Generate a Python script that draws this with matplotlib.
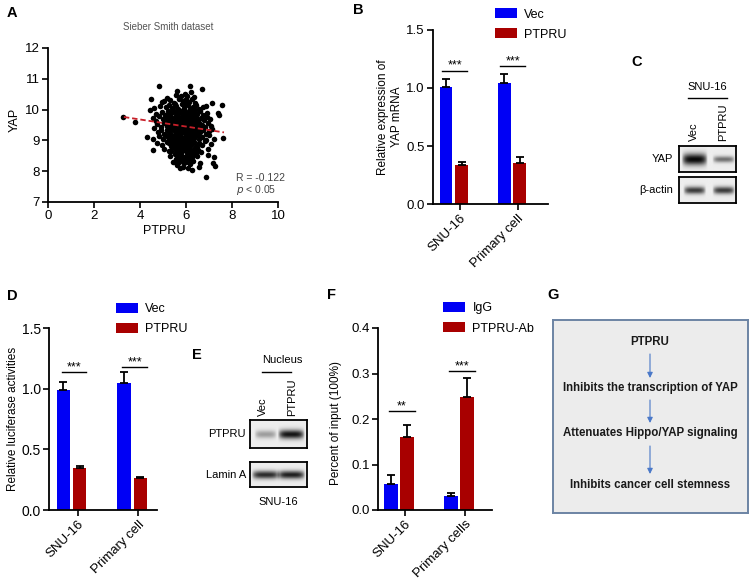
import numpy as np
import matplotlib
matplotlib.use('Agg')
import matplotlib.pyplot as plt

plt.rcParams['font.family'] = ['Liberation Sans', 'DejaVu Sans']

W, H = 753, 584

# ---------------- Panel A: scatter (PTPRU, YAP) ----------------
scatter_points = [
    (3.27, 9.77), (3.78, 9.61),
    (4.84, 10.78), (6.17, 10.77), (5.62, 10.62), (6.68, 10.66),
    (5.55, 10.48), (5.95, 10.52), (6.05, 10.45), (6.22, 10.58), (6.35, 10.41), (5.78, 10.43),
    (4.48, 10.33), (4.94, 10.25), (5.05, 10.28), (5.32, 10.31), (5.48, 10.22), (5.71, 10.35),
    (5.88, 10.27), (6.02, 10.33), (6.13, 10.24), (6.28, 10.36), (6.41, 10.21), (7.12, 10.22),
    (7.55, 10.15), (5.18, 10.37),
    (4.62, 10.05), (4.86, 10.12), (5.12, 10.08), (5.25, 10.15), (5.41, 10.04), (5.58, 10.11),
    (5.66, 10.02), (5.82, 10.17), (5.93, 10.06), (6.08, 10.14), (6.19, 10.01), (6.31, 10.09),
    (6.45, 10.16), (6.58, 10.03), (6.72, 10.07), (6.85, 10.12), (5.99, 10.19), (5.52, 10.18),
    (4.43, 9.99), (4.71, 9.86), (4.95, 9.92), (5.08, 9.83), (5.21, 9.97), (5.35, 9.88),
    (5.47, 9.95), (5.60, 9.84), (5.72, 9.93), (5.85, 9.81), (5.96, 9.97), (6.04, 9.89),
    (6.16, 9.94), (6.27, 9.82), (6.38, 9.98), (6.49, 9.87), (6.61, 9.95), (6.76, 9.84),
    (6.90, 9.90), (7.38, 9.88), (7.44, 9.82), (5.29, 9.80), (6.10, 9.85),
    (4.55, 9.72), (4.68, 9.64), (4.82, 9.78), (4.98, 9.69), (5.14, 9.75), (5.26, 9.62),
    (5.38, 9.71), (5.51, 9.77), (5.63, 9.66), (5.74, 9.73), (5.87, 9.61), (5.98, 9.76),
    (6.07, 9.68), (6.18, 9.74), (6.29, 9.63), (6.39, 9.79), (6.52, 9.67), (6.64, 9.72),
    (6.79, 9.65), (6.93, 9.76), (7.05, 9.69), (5.44, 9.63), (5.92, 9.70), (6.23, 9.66), (5.70, 9.62),
    (4.75, 9.52), (4.90, 9.45), (5.03, 9.57), (5.16, 9.48), (5.28, 9.55), (5.40, 9.43),
    (5.53, 9.58), (5.65, 9.46), (5.77, 9.54), (5.89, 9.42), (6.00, 9.56), (6.12, 9.47),
    (6.24, 9.53), (6.36, 9.41), (6.47, 9.59), (6.59, 9.45), (6.71, 9.51), (6.84, 9.44),
    (6.97, 9.56), (7.10, 9.48), (5.34, 9.47), (5.82, 9.50), (6.06, 9.44), (6.30, 9.57), (5.58, 9.41),
    (4.62, 9.39), (4.79, 9.28), (4.93, 9.35), (5.06, 9.22), (5.19, 9.33), (5.31, 9.25),
    (5.43, 9.38), (5.56, 9.21), (5.68, 9.31), (5.80, 9.24), (5.91, 9.36), (6.03, 9.27),
    (6.14, 9.34), (6.26, 9.22), (6.37, 9.30), (6.50, 9.37), (6.62, 9.26), (6.75, 9.33),
    (6.88, 9.21), (7.02, 9.29), (7.15, 9.36), (5.74, 9.38), (5.97, 9.23), (6.20, 9.29), (5.50, 9.30),
    (4.30, 9.12), (4.58, 9.03), (4.84, 9.15), (5.00, 9.06), (5.13, 9.18), (5.27, 9.02),
    (5.39, 9.11), (5.52, 9.17), (5.64, 9.04), (5.76, 9.13), (5.87, 9.08), (5.99, 9.19),
    (6.11, 9.01), (6.22, 9.14), (6.34, 9.07), (6.46, 9.16), (6.57, 9.05), (6.70, 9.12),
    (6.86, 9.02), (7.00, 9.17), (7.60, 9.09), (7.22, 9.05), (5.94, 9.10), (5.60, 9.09), (6.28, 9.03),
    (4.73, 8.93), (4.97, 8.86), (5.17, 8.95), (5.33, 8.82), (5.45, 8.90), (5.58, 8.97),
    (5.70, 8.84), (5.83, 8.92), (5.95, 8.81), (6.06, 8.98), (6.17, 8.87), (6.29, 8.94),
    (6.42, 8.83), (6.55, 8.91), (6.68, 8.86), (6.83, 8.97), (7.08, 8.89), (5.89, 8.88),
    (6.01, 8.90), (5.52, 8.85),
    (4.55, 8.69), (5.06, 8.72), (5.24, 8.64), (5.40, 8.77), (5.55, 8.68), (5.67, 8.74),
    (5.79, 8.62), (5.90, 8.78), (6.02, 8.66), (6.13, 8.73), (6.25, 8.61), (6.37, 8.76),
    (6.50, 8.69), (6.66, 8.63), (6.97, 8.72), (5.85, 8.70), (6.08, 8.60),
    (5.30, 8.48), (5.50, 8.55), (5.66, 8.44), (5.80, 8.58), (5.93, 8.47), (6.05, 8.53),
    (6.19, 8.42), (6.33, 8.56), (6.46, 8.49), (6.97, 8.52), (7.22, 8.45), (5.72, 8.50), (6.12, 8.57),
    (5.45, 8.31), (5.62, 8.22), (5.77, 8.36), (5.92, 8.27), (6.04, 8.38), (6.18, 8.24),
    (6.32, 8.33), (6.60, 8.28), (7.19, 8.26), (5.60, 8.20),
    (5.72, 8.12), (6.10, 8.09), (6.26, 8.04), (5.86, 8.15), (6.58, 8.14), (7.25, 8.18),
    (6.87, 7.82),
    (5.25, 9.90), (5.38, 9.93), (5.55, 9.90), (5.66, 9.87), (5.79, 9.96), (5.90, 9.89),
    (6.01, 9.80), (6.13, 9.76), (6.33, 9.88), (6.45, 9.76),
    (5.20, 9.65), (5.33, 9.58), (5.46, 9.69), (5.59, 9.52), (5.69, 9.57), (5.81, 9.68),
    (5.94, 9.55), (6.02, 9.62), (6.15, 9.58), (6.27, 9.71), (6.42, 9.62), (6.56, 9.55),
    (5.22, 9.40), (5.36, 9.36), (5.48, 9.47), (5.62, 9.35), (5.72, 9.45), (5.85, 9.31),
    (5.96, 9.46), (6.09, 9.38), (6.19, 9.42), (6.32, 9.35), (6.44, 9.47), (6.56, 9.33),
    (5.23, 9.12), (5.35, 9.19), (5.47, 9.05), (5.57, 9.25), (5.70, 9.18), (5.82, 9.02),
    (5.92, 9.29), (6.05, 9.12), (6.17, 9.21), (6.31, 9.17), (6.41, 9.24), (6.53, 9.20),
    (5.28, 8.90), (5.40, 8.96), (5.63, 8.90), (5.76, 8.98), (5.86, 8.80), (5.99, 8.97),
    (6.11, 8.79), (6.23, 8.86), (6.36, 8.95), (6.48, 8.78),
    (5.35, 8.66), (5.47, 8.80), (5.61, 8.60), (5.73, 8.68), (5.96, 8.72), (6.18, 8.67),
    (6.31, 8.68), (6.42, 8.60),
    (5.58, 8.40), (5.85, 8.42), (5.98, 8.36), (6.25, 8.45), (5.70, 8.30), (6.10, 8.30),
]
fit_x = [3.3, 7.65]
fit_y = [9.76, 9.26]
a_xticks = [0, 2, 4, 6, 8, 10]
a_yticks = [7, 8, 9, 10, 11, 12]

# ---------------- Panel B ----------------
groups_b = ['SNU-16', 'Primary cell']
b_vec = [1.01, 1.04]
b_vec_err = [0.065, 0.085]
b_ptpru = [0.335, 0.356]
b_ptpru_err = [0.025, 0.05]
b_sig = [1.15, 1.19]
b_sig_labels = ['***', '***']

# ---------------- Panel D ----------------
groups_d = ['SNU-16', 'Primary cell']
d_vec = [0.99, 1.05]
d_vec_err = [0.065, 0.09]
d_ptpru = [0.35, 0.26]
d_ptpru_err = [0.015, 0.01]
d_sig = [1.14, 1.18]
d_sig_labels = ['***', '***']

# ---------------- Panel F ----------------
groups_f = ['SNU-16', 'Primary cells']
f_igg = [0.057, 0.030]
f_igg_err = [0.021, 0.007]
f_ab = [0.161, 0.248]
f_ab_err = [0.026, 0.042]
f_sig = [0.218, 0.305]
f_sig_labels = ['**', '***']

# ---------------- Blots ----------------
blot_lanes = ['Vec', 'PTPRU']
blot_c_rows = ['YAP', 'β-actin']
blot_c_intensity = [[1.0, 0.55], [0.78, 0.78]]
blot_e_rows = ['PTPRU', 'Lamin A']
blot_e_intensity = [[0.35, 0.95], [0.85, 0.9]]

# ---------------- Panel G ----------------
flow_steps = ['PTPRU', 'Inhibits the transcription of YAP',
              'Attenuates Hippo/YAP signaling', 'Inhibits cancer cell stemness']

BLUE = '#0000f5'
RED = '#a80000'

fig = plt.figure(figsize=(W / 100, H / 100), dpi=100)
fig.patch.set_facecolor('white')


def add_ax(l, t, r, b):
    return fig.add_axes([l / W, 1 - b / H, (r - l) / W, (b - t) / H])


def ftext(x, y, s, **kw):
    return fig.text(x / W, 1 - y / H, s, **kw)


def style_axes(ax, ysize=9.5, xsize=9.5):
    for s in ['top', 'right']:
        ax.spines[s].set_visible(False)
    for s in ['left', 'bottom']:
        ax.spines[s].set_linewidth(1.3)
    ax.tick_params(direction='out', length=4, width=1.2, pad=2)
    ax.tick_params(axis='y', labelsize=ysize)
    ax.tick_params(axis='x', labelsize=xsize)
    ax.set_facecolor('none')


# ---- Panel A ----
axA = add_ax(48, 48, 278, 202)
pts = np.array(scatter_points)
axA.scatter(pts[:, 0], pts[:, 1], s=16, color='black', linewidths=0, zorder=2)
axA.plot(fit_x, fit_y, color='#c8202a', lw=1.3, ls=(0, (3, 1.6)), zorder=3)
axA.set_xlim(0, 10)
axA.set_ylim(7, 12)
axA.set_xticks(a_xticks)
axA.set_yticks(a_yticks)
style_axes(axA, 9.5, 9.5)
ftext(168, 27, 'Sieber Smith dataset', fontsize=7, color='#555555', ha='center', va='center')
ftext(15, 120, 'YAP', fontsize=9, rotation=90, ha='center', va='center')
ftext(164, 231, 'PTPRU', fontsize=9, ha='center', va='center')
ftext(236, 178, 'R = -0.122', fontsize=7.5, color='#444444', ha='left', va='center')
ftext(236, 190, r'$p$ < 0.05', fontsize=7.5, color='#444444', ha='left', va='center')


def bar_panel(box, groups, v1, e1, v2, e2, names, xlim, ylim, yticks, ytl,
              sig, sig_lab, span, leg_xy, off=0.135, width=0.22, tick_off=0.1, ysize=9.5):
    ax = add_ax(*box)
    pos = np.arange(len(groups))
    ax.bar(pos - off, v1, width, color=BLUE, label=names[0], zorder=2)
    ax.bar(pos + off, v2, width, color=RED, label=names[1], zorder=2)
    ax.errorbar(pos - off, v1, yerr=[np.zeros(len(v1)), e1], fmt='none', ecolor='black',
                elinewidth=1.3, capsize=3, capthick=1.3, zorder=3)
    ax.errorbar(pos + off, v2, yerr=[np.zeros(len(v2)), e2], fmt='none', ecolor='black',
                elinewidth=1.3, capsize=3, capthick=1.3, zorder=3)
    for p, y, lab in zip(pos, sig, sig_lab):
        ax.plot([p + span[0], p + span[1]], [y, y], color='black', lw=1.0, zorder=3)
        ax.annotate(lab, xy=(p + (span[0] + span[1]) / 2, y), xytext=(0, 1.2),
                    textcoords='offset points', ha='center', va='baseline', fontsize=9)
    ax.set_xlim(*xlim)
    ax.set_ylim(*ylim)
    ax.set_yticks(yticks)
    ax.set_yticklabels(ytl)
    ax.set_xticks(pos + tick_off)
    ax.set_xticklabels(groups, rotation=45, ha='right', rotation_mode='anchor')
    style_axes(ax, ysize, 9.5)
    ax.legend(loc='upper left', bbox_to_anchor=(leg_xy[0] / W, 1 - leg_xy[1] / H),
              bbox_transform=fig.transFigure, frameon=False, fontsize=9,
              borderpad=0, borderaxespad=0, handlelength=1.75, handleheight=0.9,
              handletextpad=0.6, labelspacing=0.6)
    return ax


# ---- Panel B ----
axB = bar_panel((433, 30, 548, 204), groups_b, b_vec, b_vec_err, b_ptpru, b_ptpru_err,
                ['Vec', 'PTPRU'], (-0.36, 1.62), (0, 1.5), [0, 0.5, 1.0, 1.5],
                ['0.0', '0.5', '1.0', '1.5'], b_sig, b_sig_labels, (-0.2, 0.23), (495, 8))
ftext(390, 117, 'Relative expression of\nYAP mRNA', fontsize=8.5, rotation=90,
      ha='center', va='center', linespacing=1.25)

# ---- Panel D ----
axD = bar_panel((49, 328, 157, 510), groups_d, d_vec, d_vec_err, d_ptpru, d_ptpru_err,
                ['Vec', 'PTPRU'], (-0.37, 1.41), (0, 1.5), [0, 0.5, 1.0, 1.5],
                ['0.0', '0.5', '1.0', '1.5'], d_sig, d_sig_labels, (-0.16, 0.24), (116, 303),
                ysize=10)
ftext(13, 419, 'Relative luciferase activities', fontsize=8.5, rotation=90,
      ha='center', va='center')

# ---- Panel F ----
axF = bar_panel((378, 328, 492, 510), groups_f, f_igg, f_igg_err, f_ab, f_ab_err,
                ['IgG', 'PTPRU-Ab'], (-0.35, 1.55), (0, 0.4), [0, 0.1, 0.2, 0.3, 0.4],
                ['0.0', '0.1', '0.2', '0.3', '0.4'], f_sig, f_sig_labels, (-0.16, 0.26),
                (443, 302), width=0.23)
ftext(336, 423, 'Percent of input (100%)', fontsize=8.5, rotation=90,
      ha='center', va='center')


# ---- Blots ----
def blot(box, intens, centers, halfw, thick):
    ax = add_ax(*box)
    h, w = 40, 90
    yy, xx = np.mgrid[0:h, 0:w]
    img = np.full((h, w), 0.93)
    for c, hw, I, t in zip(centers, halfw, intens, thick):
        px = np.clip(1 - np.abs((xx / w - c) / hw) ** 4, 0, 1)
        py = np.exp(-((yy / h - 0.5) / t) ** 2)
        img = img - 0.9 * I * px * py
    ax.imshow(np.clip(img, 0, 1), cmap='gray', vmin=0, vmax=1, aspect='auto',
              interpolation='bilinear')
    ax.set_xticks([])
    ax.set_yticks([])
    for s in ax.spines.values():
        s.set_linewidth(1.3)
    return ax


# C
blot((679, 146, 736, 172), blot_c_intensity[0], [0.27, 0.78], [0.23, 0.2], [0.22, 0.12])
blot((679, 177, 736, 203), blot_c_intensity[1], [0.27, 0.78], [0.2, 0.2], [0.14, 0.14])
ftext(673, 159, blot_c_rows[0], fontsize=8, ha='right', va='center')
ftext(673, 190, blot_c_rows[1], fontsize=8, ha='right', va='center')
ftext(707, 87, 'SNU-16', fontsize=8, ha='center', va='center')
fig.add_artist(plt.Line2D([688 / W, 727 / W], [1 - 98 / H, 1 - 98 / H], color='black', lw=1.0))
ftext(694, 141, blot_lanes[0], fontsize=8, rotation=90, ha='center', va='bottom')
ftext(723, 141, blot_lanes[1], fontsize=8, rotation=90, ha='center', va='bottom')

# E
blot((250, 420, 307, 448), blot_e_intensity[0], [0.27, 0.72], [0.2, 0.24], [0.14, 0.16])
blot((250, 462, 307, 487), blot_e_intensity[1], [0.27, 0.72], [0.25, 0.25], [0.16, 0.16])
ftext(246, 434, blot_e_rows[0], fontsize=8, ha='right', va='center')
ftext(246, 475, blot_e_rows[1], fontsize=8, ha='right', va='center')
ftext(282, 360, 'Nucleus', fontsize=8, ha='center', va='center')
fig.add_artist(plt.Line2D([262 / W, 291 / W], [1 - 372 / H, 1 - 372 / H], color='black', lw=1.0))
ftext(263, 416, blot_lanes[0], fontsize=8, rotation=90, ha='center', va='bottom')
ftext(292, 416, blot_lanes[1], fontsize=8, rotation=90, ha='center', va='bottom')
ftext(278, 502, 'SNU-16', fontsize=8, ha='center', va='center')

# ---- Panel G ----
axG = add_ax(553, 320, 748, 513)
axG.set_facecolor('#ececec')
axG.set_xlim(553, 748)
axG.set_ylim(513, 320)
axG.set_xticks([])
axG.set_yticks([])
for s in axG.spines.values():
    s.set_color('#6c84a4')
    s.set_linewidth(1.4)
step_y = [342, 388, 433, 485]
for y, s in zip(step_y, flow_steps):
    axG.text(650, y, s, fontsize=8.3, fontweight='bold', ha='center', va='center', color='#1a1a1a')
for y0, y1 in [(354, 378), (400, 423), (446, 474)]:
    axG.annotate('', xy=(650, y1), xytext=(650, y0),
                 arrowprops=dict(arrowstyle='-|>', color='#4a78c8', lw=0.8, mutation_scale=8,
                                 shrinkA=0, shrinkB=0))

# ---- Panel letters ----
for x, y, s in [(12, 13, 'A'), (358, 10, 'B'), (637, 62, 'C'), (12, 296, 'D'),
                (197, 355, 'E'), (331, 295, 'F'), (553, 295, 'G')]:
    ftext(x, y, s, fontsize=10.5, fontweight='bold', ha='center', va='center')

fig.savefig('out.png', dpi=100)
